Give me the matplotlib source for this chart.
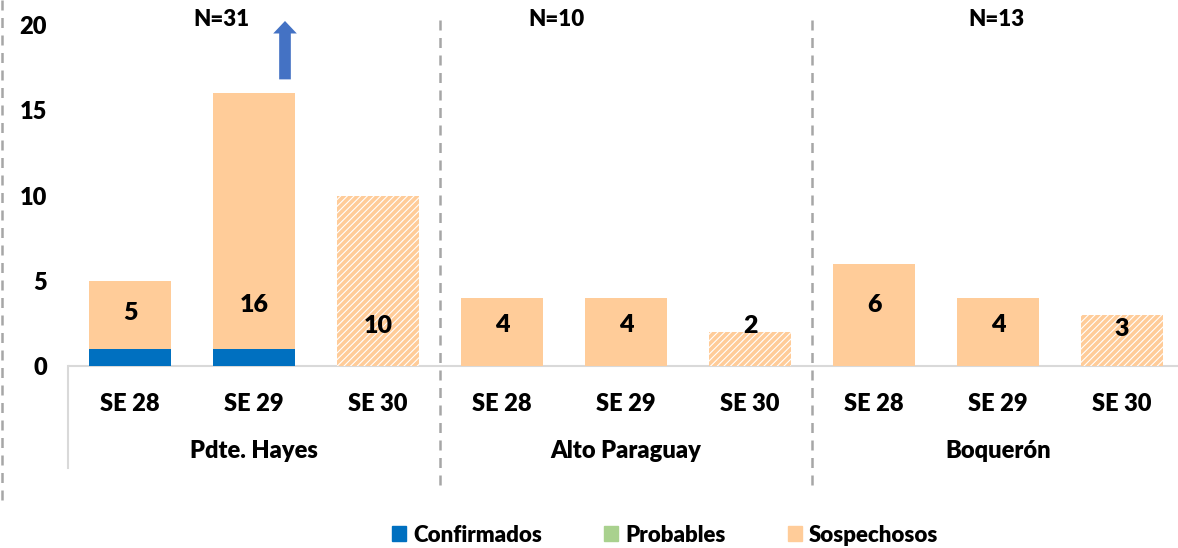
import numpy as np
import matplotlib
matplotlib.use("Agg")
from matplotlib import pyplot as plt
from matplotlib.patches import Patch
from matplotlib.lines import Line2D

plt.rcParams["font.family"] = ["Lato", "DejaVu Sans"]
plt.rcParams["font.weight"] = "heavy"
FW = "heavy"

# data
departamentos = ["Pdte. Hayes", "Alto Paraguay", "Boquerón"]
semanas = ["SE 28", "SE 29", "SE 30"]
totales_n = [31, 10, 13]
confirmados = [1, 1, 0, 0, 0, 0, 0, 0, 0]
probables = [0, 0, 0, 0, 0, 0, 0, 0, 0]
sospechosos = [4, 15, 10, 4, 4, 2, 6, 4, 3]
etiquetas = [5, 16, 10, 4, 4, 2, 6, 4, 3]
parcial = [False, False, True, False, False, True, False, False, True]  # SE 30 still open

# label heights (as in the original layout)
label_y = [3.1, 3.6, 2.35, 2.4, 2.4, 2.35, 3.6, 2.4, 2.2]

c_conf = "#0070C0"
c_prob = "#A9D18E"
c_sosp = "#FFCC99"
grey = "#A6A6A6"

fig = plt.figure(figsize=(11.78, 5.48), dpi=100)
ax = fig.add_axes([68 / 1178, 1 - 490.5 / 548, 1116 / 1178, (490.5 - 16.5) / 548])

x = np.arange(len(sospechosos))
w = 0.66
conf = np.array(confirmados)
prob = np.array(probables)
sosp = np.array(sospechosos)

ax.bar(x, conf, w, color=c_conf, linewidth=0)
ax.bar(x, prob, w, bottom=conf, color=c_prob, linewidth=0)
plt.rcParams["hatch.linewidth"] = 2.6
for i in x:
    if parcial[i]:
        ax.bar(i, sosp[i], w, bottom=conf[i] + prob[i], facecolor="white",
               edgecolor=c_sosp, hatch="/////", linewidth=0)
    else:
        ax.bar(i, sosp[i], w, bottom=conf[i] + prob[i], color=c_sosp, linewidth=0)
    ax.text(i, label_y[i], str(etiquetas[i]), ha="center", va="center",
            fontsize=18, fontweight=FW)

ax.set_xlim(-0.5, 8.5)
ax.set_ylim(-7.3, 20.5)
ax.set_yticks([0, 5, 10, 15, 20])
ax.tick_params(axis="y", length=0, pad=15, labelsize=17)
ax.set_xticks([])
for s in ax.spines.values():
    s.set_visible(False)

# category axis
ax.axhline(0, color="#D9D9D9", linewidth=1.5, zorder=0)
ax.plot([-0.5, -0.5], [0, -6], color="#D9D9D9", linewidth=1.5, clip_on=False)
for i in x:
    ax.text(i, -2.2, semanas[i % 3], ha="center", va="center", fontsize=17, fontweight=FW)
for g, name in enumerate(departamentos):
    ax.text(3 * g + 1, -5.0, name, ha="center", va="center", fontsize=17, fontweight=FW)
for b in [2.5, 5.5]:
    ax.plot([b, b], [20.3, -7.1], color=grey, linewidth=1.8, linestyle=(0, (4, 3)), clip_on=False)

# N labels
for pos, n in zip([0.74, 3.44, 6.99], totales_n):
    ax.text(pos, 20.35, f"N={n}", ha="center", va="center", fontsize=16, fontweight=FW)

# arrow (SE 29 off the scale)
ax.annotate("", xy=(1.25, 20.4), xytext=(1.25, 16.65),
            arrowprops=dict(arrowstyle="simple,head_length=0.45,head_width=0.85,tail_width=0.42",
                            mutation_scale=20, color="#4472C4", linewidth=0))

# left dashed border
fig.add_artist(Line2D([1.5 / 1178, 1.5 / 1178], [1 - 500 / 548, 1], color=grey,
                      linewidth=1.8, linestyle=(0, (4, 3))))

handles = [Patch(color=c_conf, label="Confirmados"),
           Patch(color=c_prob, label="Probables"),
           Patch(color=c_sosp, label="Sospechosos")]
fig.legend(handles=handles, loc="center", bbox_to_anchor=(665 / 1178, 1 - 535 / 548),
           ncol=3, frameon=False, fontsize=16, handlelength=0.65, handleheight=0.65,
           handletextpad=0.3, columnspacing=2.8)

plt.savefig("out.png", dpi=100)
